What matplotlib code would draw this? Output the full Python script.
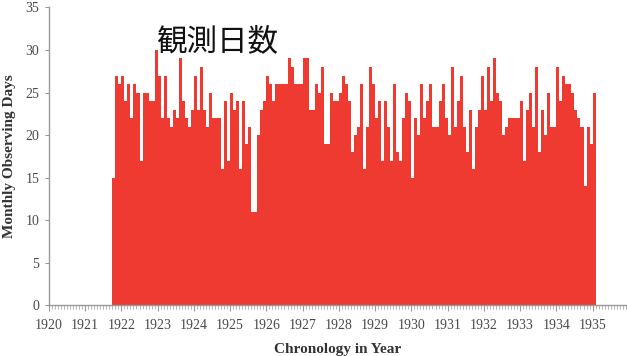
import numpy as np
import matplotlib
matplotlib.use("Agg")
import matplotlib.pyplot as plt
from matplotlib.ticker import MultipleLocator

# monthly observing days, Oct 1921 .. Jan 1935
days_1921 = [15, 27, 26]  # Oct-Dec
days_1922 = [27, 24, 26, 22, 26, 25, 17, 25, 25, 24, 24, 30]
days_1923 = [27, 22, 27, 22, 21, 23, 22, 29, 24, 22, 21, 23]
days_1924 = [27, 23, 28, 23, 21, 25, 22, 22, 22, 16, 24, 17]
days_1925 = [25, 23, 24, 16, 24, 19, 21, 11, 11, 20, 23, 24]
days_1926 = [27, 26, 24, 26, 26, 26, 26, 29, 28, 26, 26, 26]
days_1927 = [29, 29, 23, 23, 26, 25, 28, 19, 19, 25, 24, 24]
days_1928 = [25, 27, 26, 24, 18, 20, 21, 26, 16, 21, 28, 26]
days_1929 = [22, 24, 17, 24, 21, 17, 26, 18, 17, 22, 25, 24]
days_1930 = [15, 22, 20, 26, 22, 24, 26, 21, 21, 24, 26, 22]
days_1931 = [20, 28, 21, 24, 27, 21, 18, 23, 16, 21, 23, 27]
days_1932 = [23, 28, 24, 29, 25, 24, 20, 21, 22, 22, 22, 22]
days_1933 = [24, 17, 23, 25, 21, 28, 18, 23, 20, 25, 21, 21]
days_1934 = [28, 24, 27, 26, 26, 25, 23, 22, 21, 14, 21, 19]
days_1935 = [25]  # Jan

start_year = 1921 + 9 / 12  # October 1921

days = (days_1921 + days_1922 + days_1923 + days_1924 + days_1925 + days_1926
        + days_1927 + days_1928 + days_1929 + days_1930 + days_1931
        + days_1932 + days_1933 + days_1934 + days_1935)
t = start_year + np.arange(len(days)) / 12

year_ticks = list(range(1920, 1936))

fig = plt.figure(figsize=(6.27, 3.56), dpi=100)
ax = fig.add_axes([0.078, 0.143, 0.922, 0.836])

ax.bar(t, days, width=1 / 12, align="edge", color="#ee3a30", linewidth=0)

ax.set_xlim(1920, 1935.95)
ax.set_ylim(0, 35)
ax.set_xticks(year_ticks)
ax.xaxis.set_minor_locator(MultipleLocator(1 / 12))
ax.yaxis.set_major_locator(MultipleLocator(5))

serif = "Liberation Serif"
for lab in ax.get_xticklabels() + ax.get_yticklabels():
    lab.set_family(serif)
    lab.set_fontsize(10)
    lab.set_color("#4a4a4a")

ax.tick_params(axis="x", which="major", length=4, width=0.8, color="#999999", pad=6)
ax.tick_params(axis="x", which="minor", length=3, width=0.6, color="#aaaaaa")
ax.tick_params(axis="y", length=3, width=0.8, color="#999999", pad=4)

for side in ("top", "right"):
    ax.spines[side].set_visible(False)
for side in ("left", "bottom"):
    ax.spines[side].set_color("#999999")
    ax.spines[side].set_linewidth(1.0)

ax.set_xlabel("Chronology in Year", family=serif, fontweight="bold",
              fontsize=11, color="#333333", labelpad=8)
ax.set_ylabel("Monthly Observing Days", family=serif, fontweight="bold",
              fontsize=11, color="#333333", labelpad=7)

fig.text(0.346, 0.884, "観測日数", family=["Noto Sans CJK JP", "DejaVu Sans"],
         fontsize=22, color="#111111", ha="center", va="center")

fig.savefig("out.png", dpi=100)
